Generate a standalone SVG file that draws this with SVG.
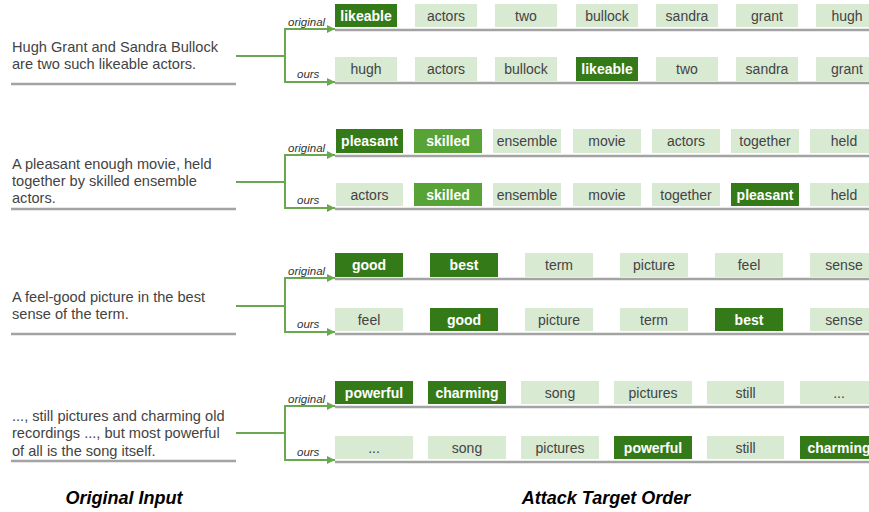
<svg xmlns="http://www.w3.org/2000/svg" width="869" height="512" viewBox="0 0 869 512">
<defs>
<marker id="ah" viewBox="0 0 10 10" refX="10" refY="5" markerWidth="8" markerHeight="8" markerUnits="userSpaceOnUse" orient="auto">
<path d="M0,0 L10,5 L0,10 z" fill="#6aa84f"/>
</marker>
<style>
text{font-family:"Liberation Sans",Arial,sans-serif}
.src{font-size:14.6px;fill:#434343}
.lab{font-size:11.5px;font-style:italic;fill:#333}
.title{font-size:18px;font-weight:bold;font-style:italic;fill:#000;text-anchor:middle}
.l rect{fill:#d9ead3}
.l text{font-size:14px;fill:#434343;text-anchor:middle}
.d rect{fill:#357a18}
.m rect{fill:#58a336}
.d text,.m text{font-size:14px;font-weight:bold;fill:#fff;text-anchor:middle}
.gl{stroke:#a3a3a3;stroke-width:2.5;fill:none}
.cn{stroke:#6aa84f;stroke-width:2;fill:none}
.ar{stroke:#6aa84f;stroke-width:2;fill:none;marker-end:url(#ah)}
</style>
</defs>

<!-- Source sentences -->
<g id="src1"><text class="src" x="12" y="52">Hugh Grant and Sandra Bullock</text><text class="src" x="12" y="69">are two such likeable actors.</text><line class="gl" x1="11" y1="84" x2="236" y2="84"/></g>
<g id="src2"><text class="src" x="12" y="169">A pleasant enough movie, held</text><text class="src" x="12" y="186">together by skilled ensemble</text><text class="src" x="12" y="203">actors.</text><line class="gl" x1="11" y1="209" x2="236" y2="209"/></g>
<g id="src3"><text class="src" x="12" y="302">A feel-good picture in the best</text><text class="src" x="12" y="319">sense of the term.</text><line class="gl" x1="11" y1="334" x2="236" y2="334"/></g>
<g id="src4"><text class="src" x="12" y="421">..., still pictures and charming old</text><text class="src" x="12" y="438">recordings ..., but most powerful</text><text class="src" x="12" y="456">of all is the song itself.</text><line class="gl" x1="11" y1="461" x2="236" y2="461"/></g>

<!-- Row baselines -->
<g id="baselines">
<line class="gl" x1="335" y1="30" x2="869" y2="30"/>
<line class="gl" x1="335" y1="83" x2="869" y2="83"/>
<line class="gl" x1="335" y1="156" x2="869" y2="156"/>
<line class="gl" x1="335" y1="209" x2="869" y2="209"/>
<line class="gl" x1="335" y1="279" x2="869" y2="279"/>
<line class="gl" x1="335" y1="334" x2="869" y2="334"/>
<line class="gl" x1="335" y1="407" x2="869" y2="407"/>
<line class="gl" x1="335" y1="462" x2="869" y2="462"/>
</g>

<!-- Connectors -->
<g id="connectors">
<path class="cn" d="M236,56 H285"/>
<path class="ar" d="M285,56 V29 H335"/>
<path class="ar" d="M285,56 V82 H335"/>
<path class="cn" d="M236,182 H285"/>
<path class="ar" d="M285,182 V155 H335"/>
<path class="ar" d="M285,182 V208 H335"/>
<path class="cn" d="M236,306 H285"/>
<path class="ar" d="M285,306 V278 H335"/>
<path class="ar" d="M285,306 V332 H335"/>
<path class="cn" d="M236,433 H285"/>
<path class="ar" d="M285,433 V406 H335"/>
<path class="ar" d="M285,433 V460 H335"/>
</g>

<!-- Labels -->
<g id="labels">
<text class="lab" x="288" y="26">original</text><text class="lab" x="297" y="78">ours</text>
<text class="lab" x="288" y="152">original</text><text class="lab" x="297" y="204">ours</text>
<text class="lab" x="288" y="275">original</text><text class="lab" x="297" y="328">ours</text>
<text class="lab" x="288" y="403">original</text><text class="lab" x="297" y="456">ours</text>
</g>

<!-- Row 1 original -->
<g id="r1o1" class="d"><rect x="335" y="4" width="62" height="23"/><text x="366" y="21">likeable</text></g>
<g id="r1o2" class="l"><rect x="415" y="4" width="62" height="23"/><text x="446" y="21">actors</text></g>
<g id="r1o3" class="l"><rect x="495" y="4" width="62" height="23"/><text x="526" y="21">two</text></g>
<g id="r1o4" class="l"><rect x="576" y="4" width="62" height="23"/><text x="607" y="21">bullock</text></g>
<g id="r1o5" class="l"><rect x="656" y="4" width="62" height="23"/><text x="687" y="21">sandra</text></g>
<g id="r1o6" class="l"><rect x="736" y="4" width="62" height="23"/><text x="767" y="21">grant</text></g>
<g id="r1o7" class="l"><rect x="816" y="4" width="62" height="23"/><text x="847" y="21">hugh</text></g>
<!-- Row 1 ours -->
<g id="r1s1" class="l"><rect x="335" y="57" width="62" height="24"/><text x="366" y="74">hugh</text></g>
<g id="r1s2" class="l"><rect x="415" y="57" width="62" height="24"/><text x="446" y="74">actors</text></g>
<g id="r1s3" class="l"><rect x="495" y="57" width="62" height="24"/><text x="526" y="74">bullock</text></g>
<g id="r1s4" class="d"><rect x="576" y="57" width="62" height="24"/><text x="607" y="74">likeable</text></g>
<g id="r1s5" class="l"><rect x="656" y="57" width="62" height="24"/><text x="687" y="74">two</text></g>
<g id="r1s6" class="l"><rect x="736" y="57" width="62" height="24"/><text x="767" y="74">sandra</text></g>
<g id="r1s7" class="l"><rect x="816" y="57" width="62" height="24"/><text x="847" y="74">grant</text></g>

<!-- Row 2 original -->
<g id="r2o1" class="d"><rect x="336" y="129" width="67" height="24"/><text x="369.5" y="146">pleasant</text></g>
<g id="r2o2" class="m"><rect x="414" y="129" width="68" height="24"/><text x="448" y="146">skilled</text></g>
<g id="r2o3" class="l"><rect x="493" y="129" width="68" height="24"/><text x="527" y="146">ensemble</text></g>
<g id="r2o4" class="l"><rect x="573" y="129" width="68" height="24"/><text x="607" y="146">movie</text></g>
<g id="r2o5" class="l"><rect x="652" y="129" width="68" height="24"/><text x="686" y="146">actors</text></g>
<g id="r2o6" class="l"><rect x="731" y="129" width="68" height="24"/><text x="765" y="146">together</text></g>
<g id="r2o7" class="l"><rect x="810" y="129" width="68" height="24"/><text x="844" y="146">held</text></g>
<!-- Row 2 ours -->
<g id="r2s1" class="l"><rect x="336" y="183" width="67" height="23"/><text x="369.5" y="200">actors</text></g>
<g id="r2s2" class="m"><rect x="414" y="183" width="68" height="23"/><text x="448" y="200">skilled</text></g>
<g id="r2s3" class="l"><rect x="493" y="183" width="68" height="23"/><text x="527" y="200">ensemble</text></g>
<g id="r2s4" class="l"><rect x="573" y="183" width="68" height="23"/><text x="607" y="200">movie</text></g>
<g id="r2s5" class="l"><rect x="652" y="183" width="68" height="23"/><text x="686" y="200">together</text></g>
<g id="r2s6" class="d"><rect x="731" y="183" width="68" height="23"/><text x="765" y="200">pleasant</text></g>
<g id="r2s7" class="l"><rect x="810" y="183" width="68" height="23"/><text x="844" y="200">held</text></g>

<!-- Row 3 original -->
<g id="r3o1" class="d"><rect x="335" y="253" width="68" height="24"/><text x="369" y="270">good</text></g>
<g id="r3o2" class="d"><rect x="430" y="253" width="68" height="24"/><text x="464" y="270">best</text></g>
<g id="r3o3" class="l"><rect x="525" y="253" width="68" height="24"/><text x="559" y="270">term</text></g>
<g id="r3o4" class="l"><rect x="620" y="253" width="68" height="24"/><text x="654" y="270">picture</text></g>
<g id="r3o5" class="l"><rect x="715" y="253" width="68" height="24"/><text x="749" y="270">feel</text></g>
<g id="r3o6" class="l"><rect x="810" y="253" width="68" height="24"/><text x="844" y="270">sense</text></g>
<!-- Row 3 ours -->
<g id="r3s1" class="l"><rect x="335" y="308" width="68" height="23"/><text x="369" y="325">feel</text></g>
<g id="r3s2" class="d"><rect x="430" y="308" width="68" height="23"/><text x="464" y="325">good</text></g>
<g id="r3s3" class="l"><rect x="525" y="308" width="68" height="23"/><text x="559" y="325">picture</text></g>
<g id="r3s4" class="l"><rect x="620" y="308" width="68" height="23"/><text x="654" y="325">term</text></g>
<g id="r3s5" class="d"><rect x="715" y="308" width="68" height="23"/><text x="749" y="325">best</text></g>
<g id="r3s6" class="l"><rect x="810" y="308" width="68" height="23"/><text x="844" y="325">sense</text></g>

<!-- Row 4 original -->
<g id="r4o1" class="d"><rect x="335" y="381" width="78" height="23"/><text x="374" y="398">powerful</text></g>
<g id="r4o2" class="d"><rect x="428" y="381" width="78" height="23"/><text x="467" y="398">charming</text></g>
<g id="r4o3" class="l"><rect x="521" y="381" width="78" height="23"/><text x="560" y="398">song</text></g>
<g id="r4o4" class="l"><rect x="614" y="381" width="78" height="23"/><text x="653" y="398">pictures</text></g>
<g id="r4o5" class="l"><rect x="707" y="381" width="77" height="23"/><text x="745.5" y="398">still</text></g>
<g id="r4o6" class="l"><rect x="800" y="381" width="78" height="23"/><text x="839" y="398">...</text></g>
<!-- Row 4 ours -->
<g id="r4s1" class="l"><rect x="335" y="436" width="78" height="23"/><text x="374" y="453">...</text></g>
<g id="r4s2" class="l"><rect x="428" y="436" width="78" height="23"/><text x="467" y="453">song</text></g>
<g id="r4s3" class="l"><rect x="521" y="436" width="78" height="23"/><text x="560" y="453">pictures</text></g>
<g id="r4s4" class="d"><rect x="614" y="436" width="78" height="23"/><text x="653" y="453">powerful</text></g>
<g id="r4s5" class="l"><rect x="707" y="436" width="77" height="23"/><text x="745.5" y="453">still</text></g>
<g id="r4s6" class="d"><rect x="800" y="436" width="78" height="23"/><text x="839" y="453">charming</text></g>

<g id="titles">
<text class="title" x="124" y="504">Original Input</text>
<text class="title" x="606" y="504">Attack Target Order</text>
</g>
</svg>
